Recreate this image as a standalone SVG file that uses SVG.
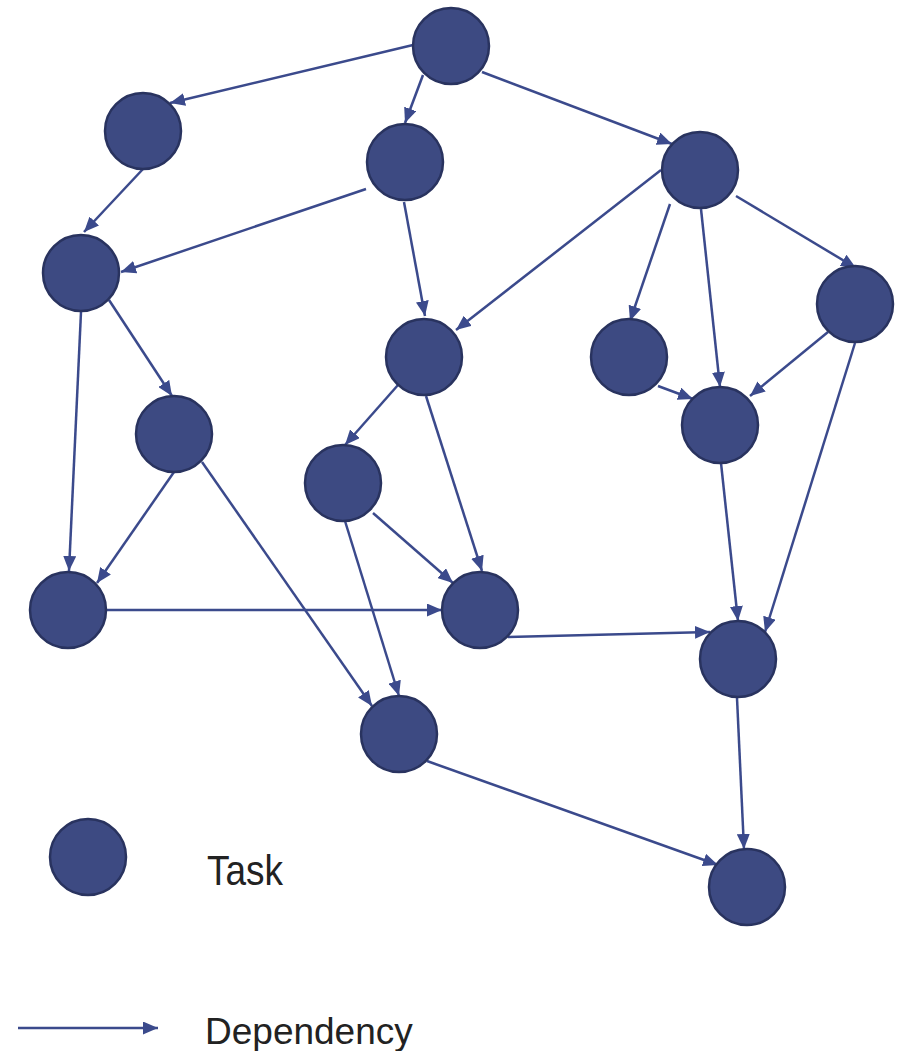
<svg xmlns="http://www.w3.org/2000/svg" width="900" height="1051" viewBox="0 0 900 1051">
  <style>
    .task { fill: #3d4a82; stroke: #29335f; stroke-width: 2.5; }
    .dep { fill: none; stroke: #3b4a8c; stroke-width: 2.5; marker-end: url(#arrow); }
    .label { font-family: "Liberation Sans", Arial, sans-serif; font-size: 37px; fill: #222222; }
  </style>
  <defs>
    <marker id="arrow" markerUnits="userSpaceOnUse" markerWidth="16" markerHeight="13" refX="15" refY="6.5" orient="auto">
      <path d="M0,0 L15,6.5 L0,13 z" fill="#3b4a8c"/>
    </marker>
  </defs>
  <rect width="900" height="1051" fill="#ffffff"/>

  <!-- dependencies -->
  <g id="connectors">
    <path class="dep" d="M413,45 L170,103"/>
    <path class="dep" d="M423,75 L405,123"/>
    <path class="dep" d="M482,72 L672,144"/>
    <path class="dep" d="M143,169 L84,232"/>
    <path class="dep" d="M366,189 L121,272"/>
    <path class="dep" d="M404,202 L425,316"/>
    <path class="dep" d="M661,170 L456,330"/>
    <path class="dep" d="M670,204 L630,321"/>
    <path class="dep" d="M701,209 L720,387"/>
    <path class="dep" d="M736,196 L856,268"/>
    <path class="dep" d="M81,312 L69,571"/>
    <path class="dep" d="M109,300 L172,396"/>
    <path class="dep" d="M828,332 L750,396"/>
    <path class="dep" d="M855,343 L765,632"/>
    <path class="dep" d="M658,386 L693,399"/>
    <path class="dep" d="M398,385 L345,445"/>
    <path class="dep" d="M426,396 L482,571"/>
    <path class="dep" d="M174,472 L97,583"/>
    <path class="dep" d="M202,462 L372,706"/>
    <path class="dep" d="M373,513 L453,583"/>
    <path class="dep" d="M345,521 L399,696"/>
    <path class="dep" d="M721,463 L738,621"/>
    <path class="dep" d="M107,610 L442,610"/>
    <path class="dep" d="M508,637 L710,632"/>
    <path class="dep" d="M737,698 L744,849"/>
    <path class="dep" d="M427,761 L718,865"/>
  </g>

  <!-- tasks -->
  <g id="t1"><circle class="task" cx="451" cy="46" r="38"/></g>
  <g id="t2"><circle class="task" cx="143" cy="131" r="38"/></g>
  <g id="t3"><circle class="task" cx="405" cy="162" r="38"/></g>
  <g id="t4"><circle class="task" cx="700" cy="170" r="38"/></g>
  <g id="t5"><circle class="task" cx="81" cy="273" r="38"/></g>
  <g id="t6"><circle class="task" cx="855" cy="304" r="38"/></g>
  <g id="t7"><circle class="task" cx="424" cy="357" r="38"/></g>
  <g id="t8"><circle class="task" cx="629" cy="357" r="38"/></g>
  <g id="t9"><circle class="task" cx="174" cy="434" r="38"/></g>
  <g id="t10"><circle class="task" cx="720" cy="425" r="38"/></g>
  <g id="t11"><circle class="task" cx="343" cy="483" r="38"/></g>
  <g id="t12"><circle class="task" cx="68" cy="610" r="38"/></g>
  <g id="t13"><circle class="task" cx="480" cy="610" r="38"/></g>
  <g id="t14"><circle class="task" cx="738" cy="659" r="38"/></g>
  <g id="t15"><circle class="task" cx="399" cy="734" r="38"/></g>
  <g id="t16"><circle class="task" cx="747" cy="887" r="38"/></g>

  <!-- legend -->
  <g id="legend-task">
    <circle class="task" cx="88" cy="857" r="38"/>
    <text class="label" transform="translate(207,885) scale(1,1.15)">Task</text>
  </g>
  <g id="legend-dependency">
    <path class="dep" d="M18,1028 L158,1028"/>
    <text class="label" x="205" y="1044">Dependency</text>
  </g>
</svg>
